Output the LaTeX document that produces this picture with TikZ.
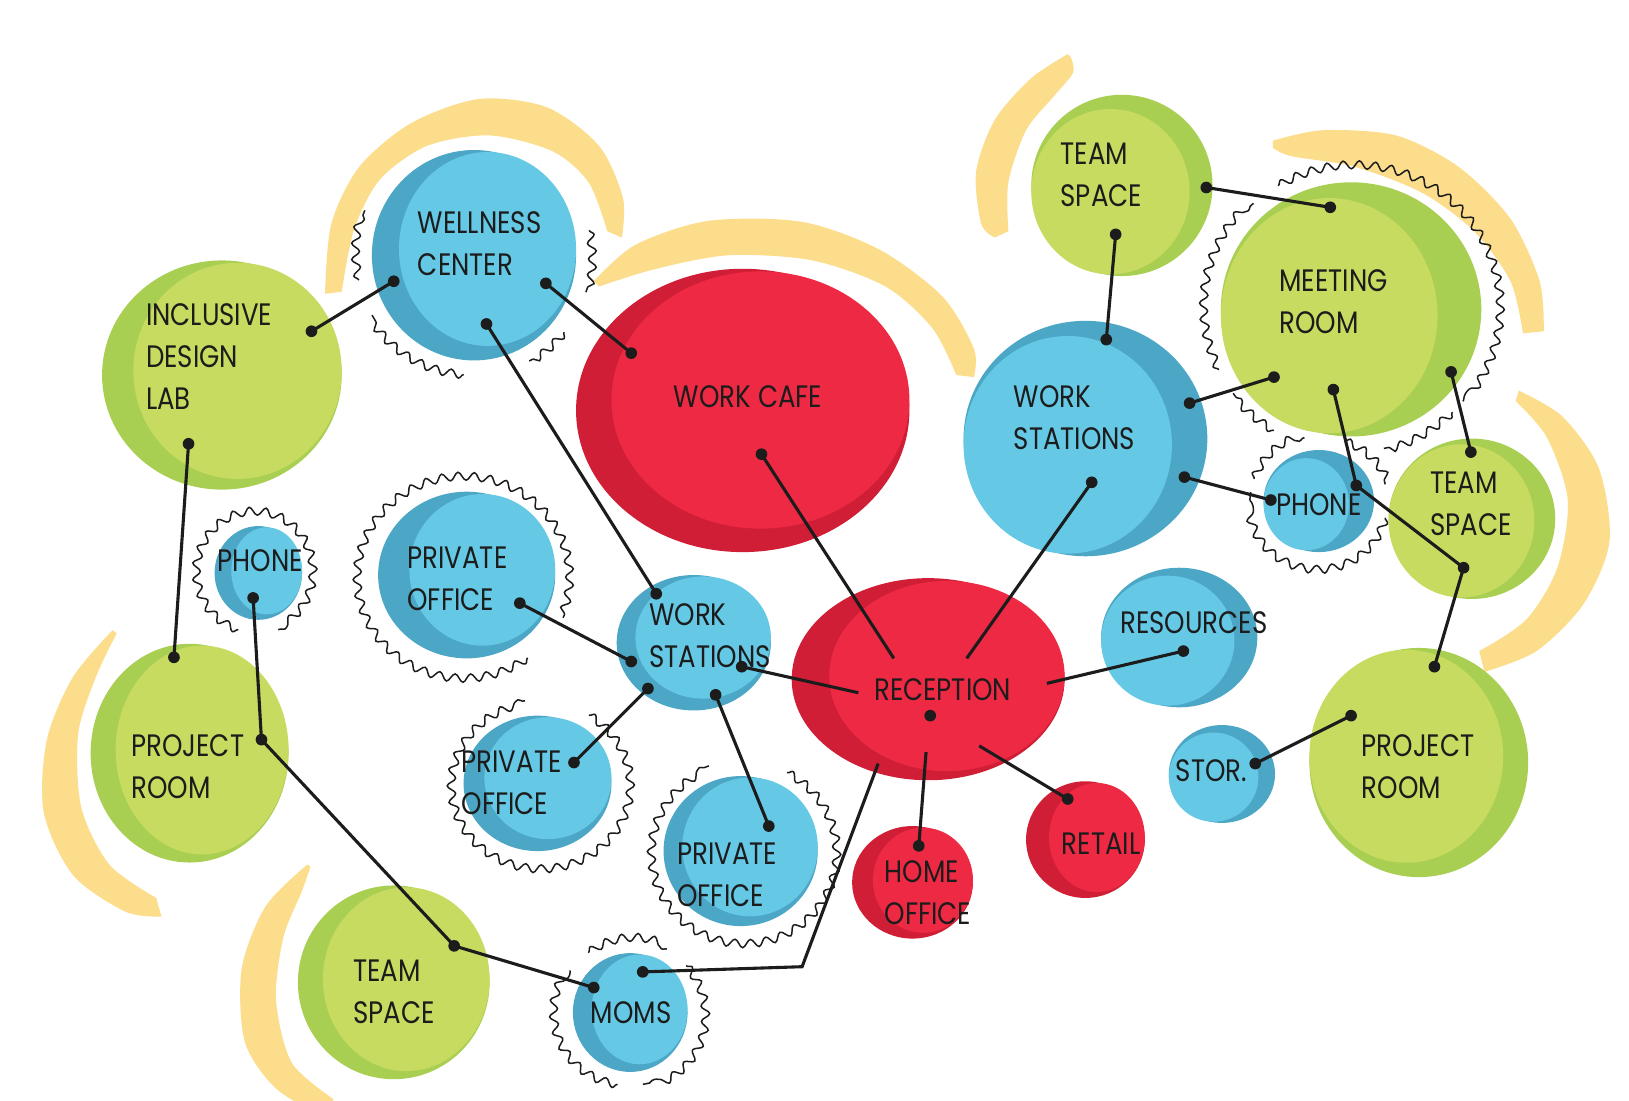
\documentclass[tikz,border=0pt]{standalone}
\usepackage{fontspec}
\setmainfont{Poppins}[FakeStretch=0.84]
\usetikzlibrary{decorations.pathmorphing}
\definecolor{glight}{HTML}{C6DB5F}
\definecolor{gdark}{HTML}{A9CF52}
\definecolor{blight}{HTML}{65C9E6}
\definecolor{bdark}{HTML}{4CA6C5}
\definecolor{rlight}{HTML}{EE2943}
\definecolor{rdark}{HTML}{D01E36}
\definecolor{yel}{HTML}{FBDD8C}
\definecolor{ink}{HTML}{1C1C1C}
\tikzset{
  conn/.style={draw=ink, line width=3.1pt},
  squig/.style={draw=ink, line width=1.5pt, decorate, decoration={snake, amplitude=4pt, segment length=16pt}},
  lbl/.style={font=\fontsize{31}{42}\selectfont, text=ink, align=left, anchor=west, inner sep=0pt},
  clbl/.style={lbl, anchor=center, align=center},
  yarc/.style={fill=yel},
}
\newcommand\bub[8]{%
  \fill[#6dark] (#2,#3) ellipse[x radius=#4, y radius=#5];
  \pgfmathsetmacro\lrx{#4-abs(#7)}%
  \pgfmathsetmacro\lry{#5-abs(#8)-0.15*abs(#7)}%
  \fill[#6light] (#2+#7,#3+#8) ellipse[x radius=\lrx, y radius=\lry];
  \coordinate (#1) at (#2,#3);}
\newcommand\squarc[6]{\draw[squig] ([shift={(#1,#2)}]#5:#3 and #4) arc[start angle=#5, end angle=#6, x radius=#3, y radius=#4];}
\newcommand\dotat[1]{\fill[ink] (#1) circle[radius=5.6];}
\begin{document}
\begin{tikzpicture}[x=1.0417pt,y=-1.0417pt]
\fill[white] (0,0) rectangle (1563.8,1056);
\useasboundingbox (0,0) rectangle (1563.8,1056);

% yellow crescents
\fill[yarc] plot[smooth] coordinates {(312,282) (318,215) (345,160) (395,118) (460,95) (525,103) (575,140) (598,190) (597,228)}
  -- plot[smooth] coordinates {(583,222) (565,175) (530,145) (470,130) (410,140) (365,172) (340,220) (328,280)} -- cycle;
\fill[yarc] plot[smooth] coordinates {(570,270) (610,235) (680,212) (770,213) (845,240) (905,285) (935,335) (935,362)}
  -- plot[smooth] coordinates {(918,360) (895,315) (850,275) (780,250) (700,245) (630,258) (575,275)} -- cycle;
\fill[yarc] plot[smooth] coordinates {(1025,52) (990,75) (955,115) (937,165) (942,215) (955,228)}
  -- plot[smooth] coordinates {(968,222) (968,175) (985,125) (1012,92) (1030,70) (1028,55)} -- cycle;
\fill[yarc] plot[smooth] coordinates {(1222,135) (1270,125) (1340,130) (1400,160) (1450,210) (1478,270) (1482,318)}
  -- plot[smooth] coordinates {(1462,320) (1450,270) (1415,222) (1365,185) (1300,160) (1240,150) (1222,142)} -- cycle;
\fill[yarc] plot[smooth] coordinates {(1458,375) (1500,400) (1535,450) (1545,520) (1520,580) (1475,625) (1425,645)}
  -- plot[smooth] coordinates {(1420,625) (1465,595) (1495,545) (1505,480) (1485,420) (1455,385)} -- cycle;
\fill[yarc] plot[smooth] coordinates {(108,605) (70,650) (45,710) (42,780) (70,840) (120,875) (155,880)}
  -- plot[smooth] coordinates {(150,862) (105,830) (78,775) (75,705) (92,650) (112,608)} -- cycle;
\fill[yarc] plot[smooth] coordinates {(295,830) (255,870) (232,930) (235,1000) (265,1045) (315,1075)}
  -- plot[smooth] coordinates {(320,1055) (280,1020) (265,960) (272,900) (290,855) (298,832)} -- cycle;

% squiggles
\squarc{455}{245}{113}{115}{168}{202}
\squarc{455}{245}{113}{115}{95}{150}
\squarc{455}{245}{113}{115}{40}{62}
\squarc{455}{245}{113}{115}{-12}{18}
\squarc{1297}{297}{140}{137}{240}{400}
\squarc{1297}{297}{140}{137}{155}{228}
\squarc{1297}{297}{140}{137}{122}{144}
\squarc{1297}{297}{140}{137}{46}{77}
\squarc{1266}{481}{66}{62}{200}{258}
\squarc{1266}{481}{66}{62}{292}{345}
\squarc{1266}{481}{66}{62}{15}{188}
\squarc{448}{552}{102}{97}{55}{385}
\squarc{516}{752}{86}{80}{-55}{262}
\squarc{711}{817}{89}{87}{-60}{250}
\squarc{248}{550}{56}{58}{110}{430}
\squarc{605}{972}{70}{70}{100}{215}
\squarc{605}{972}{70}{70}{235}{300}
\squarc{605}{972}{70}{70}{320}{440}

% bubbles
\bub{idl}{213}{360}{115}{110}{g}{15}{-4}
\bub{wel}{455}{245}{98}{101}{b}{13}{-6}
\bub{cafe}{713}{394}{160}{136}{r}{17}{-10}
\bub{tsa}{1077}{178}{87}{87}{g}{-11}{6}
\bub{mr}{1297}{297}{125}{122}{g}{-21}{6}
\bub{wsb}{1042}{421}{117}{113}{b}{-17}{6}
\bub{phr}{1266}{481}{53}{49}{b}{-12}{3}
\bub{tsr}{1413}{498}{80}{77}{g}{-10}{2}
\bub{prr}{1362}{732}{105}{110}{g}{-12}{-6}
\bub{res}{1132}{612}{75}{67}{b}{-11}{3}
\bub{stor}{1173}{743}{51}{47}{b}{-8}{3}
\bub{rec}{891}{652}{131}{97}{r}{18}{-3}
\bub{ho}{876}{847}{58}{54}{r}{10}{-2}
\bub{ret}{1042}{806}{57}{56}{r}{11}{-2}
\bub{wss}{666}{617}{74}{65}{b}{9}{-5}
\bub{poa}{448}{552}{85}{80}{b}{15}{-5}
\bub{pob}{516}{752}{71}{65}{b}{10}{-5}
\bub{poc}{711}{817}{74}{72}{b}{9}{-4}
\bub{phl}{248}{550}{42}{45}{b}{8}{-2}
\bub{prl}{182}{723}{95}{105}{g}{12}{-3}
\bub{tsb}{378}{943}{92}{93}{g}{12}{-3}
\bub{moms}{605}{972}{55}{57}{b}{9}{-3}

% connector end points
\coordinate (idlA) at (299,318);
\coordinate (idlB) at (181,426);
\coordinate (welA) at (378,270);
\coordinate (welB) at (524,272);
\coordinate (welC) at (467,311);
\coordinate (cafeA) at (606,339);
\coordinate (cafeB) at (731,436);
\coordinate (tsaA) at (1158,180);
\coordinate (tsaB) at (1071,225);
\coordinate (mrA) at (1277,199);
\coordinate (mrB) at (1223,362);
\coordinate (mrC) at (1280,374);
\coordinate (mrD) at (1393,357);
\coordinate (wsbA) at (1062,326);
\coordinate (wsbB) at (1142,387);
\coordinate (wsbC) at (1137,458);
\coordinate (wsbD) at (1048,463);
\coordinate (phrA) at (1220,480);
\coordinate (phrB) at (1302,466);
\coordinate (tsrA) at (1412,434);
\coordinate (tsrB) at (1405,545);
\coordinate (prrA) at (1377,640);
\coordinate (prrB) at (1297,687);
\coordinate (storA) at (1205,733);
\coordinate (resA) at (1136,625);
\coordinate (recA) at (858,632);
\coordinate (recB) at (928,632);
\coordinate (recC) at (1005,656);
\coordinate (recD) at (940,716);
\coordinate (recE) at (889,722);
\coordinate (recF) at (843,733);
\coordinate (recG) at (824,665);
\coordinate (recO) at (893,687);
\coordinate (bend) at (770,928);
\coordinate (retA) at (1025,767);
\coordinate (hoA) at (882,812);
\coordinate (wssA) at (630,570);
\coordinate (wssB) at (606,635);
\coordinate (wssC) at (622,661);
\coordinate (wssD) at (687,667);
\coordinate (wssE) at (712,640);
\coordinate (poaA) at (499,579);
\coordinate (pobA) at (551,732);
\coordinate (pocA) at (738,793);
\coordinate (phlA) at (243,574);
\coordinate (prlA) at (167,631);
\coordinate (prlB) at (251,710);
\coordinate (tsbA) at (436,908);
\coordinate (momsA) at (570,948);
\coordinate (momsB) at (617,933);

% connectors
\draw[conn] (idlA) -- (welA);
\draw[conn] (idlB) -- (prlA);
\draw[conn] (welB) -- (cafeA);
\draw[conn] (welC) -- (wssA);
\draw[conn] (cafeB) -- (recA);
\draw[conn] (tsaA) -- (mrA);
\draw[conn] (tsaB) -- (wsbA);
\draw[conn] (mrB) -- (wsbB);
\draw[conn] (wsbC) -- (phrA);
\draw[conn] (wsbD) -- (recB);
\draw[conn] (mrC) -- (phrB) -- (tsrB);
\draw[conn] (mrD) -- (tsrA);
\draw[conn] (tsrB) -- (prrA);
\draw[conn] (prrB) -- (storA);
\draw[conn] (resA) -- (recC);
\draw[conn] (recD) -- (retA);
\draw[conn] (hoA) -- (recE);
\draw[conn] (recF) -- (bend) -- (momsB);
\draw[conn] (wssE) -- (recG);
\draw[conn] (wssB) -- (poaA);
\draw[conn] (wssC) -- (pobA);
\draw[conn] (wssD) -- (pocA);
\draw[conn] (phlA) -- (prlB);
\draw[conn] (prlB) -- (tsbA);
\draw[conn] (tsbA) -- (momsA);

\foreach \p in {idlA,idlB,welA,welB,welC,cafeA,cafeB,tsaA,tsaB,mrA,mrB,mrC,mrD,wsbA,wsbB,wsbC,wsbD,phrA,phrB,tsrA,tsrB,prrA,prrB,storA,resA,recO,retA,hoA,wssA,wssB,wssC,wssD,wssE,poaA,pobA,pocA,phlA,prlA,prlB,tsbA,momsA,momsB}{\dotat{\p}}

% labels
\node[lbl] (tidl) at (140,342) {INCLUSIVE\\DESIGN\\LAB};
\node[lbl] (twel) at (401,234) {WELLNESS\\CENTER};
\node[clbl] (tcafe) at (718,381) {WORK CAFE};
\node[lbl] (ttsa) at (1018,168) {TEAM\\SPACE};
\node[lbl] (tmr) at (1228,290) {MEETING\\ROOM};
\node[lbl] (twsb) at (973,401) {WORK\\STATIONS};
\node[clbl] (tphr) at (1266,484) {PHONE};
\node[lbl] (ttsr) at (1373,484) {TEAM\\SPACE};
\node[lbl] (tprr) at (1307,736) {PROJECT\\ROOM};
\node[clbl] (tres) at (1146,598) {RESOURCES};
\node[clbl] (tstor) at (1163,740) {STOR.};
\node[clbl] (trec) at (905,662) {RECEPTION};
\node[lbl] (tho) at (849,857) {HOME\\OFFICE};
\node[clbl] (tret) at (1057,810) {RETAIL};
\node[lbl] (twss) at (623,610) {WORK\\STATIONS};
\node[lbl] (tpoa) at (391,556) {PRIVATE\\OFFICE};
\node[lbl] (tpob) at (443,751) {PRIVATE\\OFFICE};
\node[lbl] (tpoc) at (650,840) {PRIVATE\\OFFICE};
\node[clbl] (tphl) at (250,538) {PHONE};
\node[lbl] (tprl) at (126,736) {PROJECT\\ROOM};
\node[lbl] (ttsb) at (339,952) {TEAM\\SPACE};
\node[clbl] (tmoms) at (606,972) {MOMS};
\end{tikzpicture}
\end{document}
